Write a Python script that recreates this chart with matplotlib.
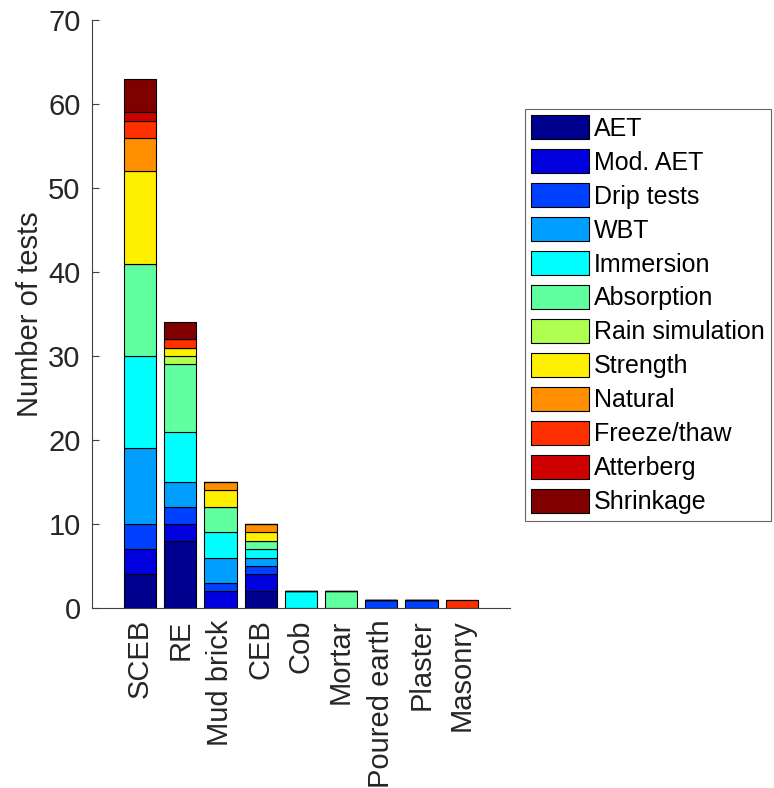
import matplotlib
matplotlib.use("Agg")
import matplotlib.pyplot as plt
import numpy as np

plt.rcParams['font.family'] = ['Liberation Sans', 'DejaVu Sans']

categories = ["SCEB", "RE", "Mud brick", "CEB", "Cob", "Mortar", "Poured earth", "Plaster", "Masonry"]
tests = ["AET", "Mod. AET", "Drip tests", "WBT", "Immersion", "Absorption",
         "Rain simulation", "Strength", "Natural", "Freeze/thaw", "Atterberg", "Shrinkage"]

# values per test type, one entry per category
AET        = [4, 8, 0, 2, 0, 0, 0, 0, 0]
Mod_AET    = [3, 2, 2, 2, 0, 0, 0, 0, 0]
Drip       = [3, 2, 1, 1, 0, 0, 1, 1, 0]
WBT        = [9, 3, 3, 1, 0, 0, 0, 0, 0]
Immersion  = [11, 6, 3, 1, 2, 0, 0, 0, 0]
Absorption = [11, 8, 3, 1, 0, 2, 0, 0, 0]
Rain       = [0, 1, 0, 0, 0, 0, 0, 0, 0]
Strength   = [11, 1, 2, 1, 0, 0, 0, 0, 0]
Natural    = [4, 0, 1, 1, 0, 0, 0, 0, 0]
Freeze     = [2, 1, 0, 0, 0, 0, 0, 0, 1]
Atterberg  = [1, 0, 0, 0, 0, 0, 0, 0, 0]
Shrinkage  = [4, 2, 0, 0, 0, 0, 0, 0, 0]

series = [AET, Mod_AET, Drip, WBT, Immersion, Absorption, Rain, Strength,
          Natural, Freeze, Atterberg, Shrinkage]

colors = [(0, 0, 0.5625), (0, 0, 0.875), (0, 0.25, 1), (0, 0.625, 1), (0, 1, 1),
          (0.375, 1, 0.625), (0.6875, 1, 0.3125), (1, 0.9375, 0), (1, 0.5625, 0),
          (1, 0.1875, 0), (0.8125, 0, 0), (0.5, 0, 0)]

fig = plt.figure(figsize=(7.74, 7.88), dpi=100)
ax = fig.add_axes([0.1185, 0.2284, 0.659 - 0.1185, 0.9746 - 0.2284])

x = np.arange(1, len(categories) + 1)
bottom = np.zeros(len(categories))
handles = []
for vals, col, name in zip(series, colors, tests):
    v = np.array(vals, dtype=float)
    b = ax.bar(x, v, width=0.8, bottom=bottom, color=col, edgecolor='black',
               linewidth=0.8, label=name, zorder=2)
    handles.append(b)
    bottom += v

ax.set_xlim(-0.2, 10.2)
ax.set_ylim(0, 70)
ax.set_yticks(np.arange(0, 71, 10))
ax.set_xticks(x)
ax.set_xticklabels(categories, rotation=90, ha='center', va='top')

for s in ['top', 'right']:
    ax.spines[s].set_visible(False)
for s in ['left', 'bottom']:
    ax.spines[s].set_color('#404040')
    ax.spines[s].set_linewidth(0.8)

ax.tick_params(axis='both', direction='in', length=5, width=0.8, color='#404040',
               labelcolor='#262626', labelsize=21, pad=8)
for t in ax.xaxis.get_major_ticks():
    t.tick1line.set_zorder(5)

ax.set_ylabel("Number of tests", fontsize=21, color='#262626', labelpad=3)

leg = fig.legend(handles=handles, labels=tests, loc='upper left',
                 bbox_to_anchor=(525 / 774, 1 - 109 / 788), fontsize=18,
                 frameon=True, fancybox=False, shadow=False, borderaxespad=0,
                 handlelength=2.32, handleheight=1.08, labelspacing=0.345,
                 handletextpad=0.2, borderpad=0.25)
leg.get_frame().set_edgecolor('#404040')
leg.get_frame().set_linewidth(0.8)

fig.savefig("out.png", dpi=100)
